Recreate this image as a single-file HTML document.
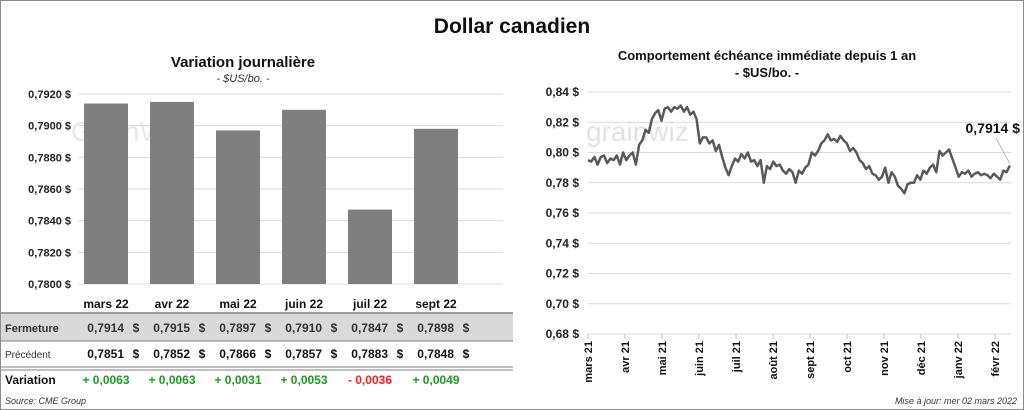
<!DOCTYPE html>
<html><head><meta charset="utf-8">
<style>
body{margin:0;background:#fff;font-family:"Liberation Sans",sans-serif;}
#wrap{position:relative;width:1022px;height:408px;border:1px solid #8c8c8c;overflow:hidden;}
svg text{font-family:"Liberation Sans",sans-serif;}
</style></head>
<body>
<div id="wrap">
<svg id="s" width="1022" height="408">
<text x="511" y="32" font-size="21" font-weight="bold" text-anchor="middle" fill="#111">Dollar canadien</text>
<text x="242" y="66" font-size="15" font-weight="bold" text-anchor="middle" fill="#111">Variation  journalière</text>
<text x="242" y="81" font-size="11" font-style="italic" text-anchor="middle" fill="#333">- $US/bo. -</text>
<text x="766" y="59" font-size="13" font-weight="bold" text-anchor="middle" fill="#111">Comportement échéance immédiate depuis 1 an</text>
<text x="766" y="76" font-size="13" font-weight="bold" text-anchor="middle" fill="#111">- $US/bo. -</text>
<text x="70" y="140" font-size="28" fill="#e8e8e8">GrainWiz</text>
<text x="585" y="140" font-size="28" fill="#e3e3e3">grainwiz</text>
<g id="left"></g>
<g id="right"></g>
<g id="table"></g>
<text x="4" y="403" font-size="9" font-style="italic" fill="#333">Source: CME Group</text>
<text x="1016" y="403" font-size="9" font-style="italic" fill="#333" text-anchor="end">Mise à jour: mer 02 mars 2022</text>
</svg>
</div>
<script>
const months=["mars 22","avr 22","mai 22","juin 22","juil 22","sept 22"];
const closeVals=[0.7914,0.7915,0.7897,0.7910,0.7847,0.7898];
const prevVals=[0.7851,0.7852,0.7866,0.7857,0.7883,0.7848];
const varVals=[0.0063,0.0063,0.0031,0.0053,-0.0036,0.0049];
const leftTicks=[0.7800,0.7820,0.7840,0.7860,0.7880,0.7900,0.7920];
const lineMonths=["mars 21","avr 21","mai 21","juin 21","juil 21","août 21","sept 21","oct 21","nov 21","déc 21","janv 22","févr 22"];
const rightTicks=[0.68,0.70,0.72,0.74,0.76,0.78,0.80,0.82,0.84];
// series spans from 1 mars 21 (month 0) to 2 mars 22 (month ~11.4)
const lineStart=0, lineEnd=11.4;
const lineV=[0.795,0.794,0.797,0.792,0.797,0.798,0.793,0.796,0.795,0.798,0.792,0.800,0.795,0.798,0.800,0.792,0.805,0.808,0.815,0.813,0.822,0.826,0.828,0.821,0.829,0.830,0.827,0.830,0.829,0.831,0.827,0.830,0.825,0.827,0.822,0.806,0.810,0.810,0.806,0.808,0.801,0.805,0.797,0.790,0.785,0.791,0.796,0.794,0.799,0.796,0.800,0.794,0.795,0.791,0.795,0.780,0.791,0.789,0.794,0.791,0.792,0.788,0.786,0.789,0.787,0.780,0.788,0.786,0.790,0.792,0.800,0.798,0.801,0.806,0.808,0.812,0.808,0.809,0.807,0.811,0.808,0.806,0.801,0.803,0.800,0.795,0.793,0.789,0.791,0.786,0.785,0.782,0.784,0.790,0.780,0.787,0.784,0.778,0.776,0.773,0.779,0.780,0.780,0.785,0.782,0.788,0.786,0.790,0.792,0.787,0.801,0.798,0.800,0.802,0.796,0.790,0.784,0.787,0.786,0.788,0.784,0.786,0.787,0.785,0.786,0.785,0.783,0.786,0.784,0.782,0.788,0.787,0.7914];

const NS="http://www.w3.org/2000/svg";
function mk(tag,attrs,parent,txt){const e=document.createElementNS(NS,tag);for(const k in attrs)e.setAttribute(k,attrs[k]);if(txt!==undefined)e.textContent=txt;parent.appendChild(e);return e;}
const fmt=(v,d)=>v.toFixed(d).replace('.',',');

// left bar chart
const L=document.getElementById('left');
const ly=v=>93+(0.7920-v)/(0.7920-0.7800)*190;
const lx=i=>105+66*i;
leftTicks.forEach(t=>{
 const g=mk('line',{x1:77,x2:502,y1:ly(t),y2:ly(t),stroke:'#d9d9d9','stroke-width':1},L);
 
 
 const tx=mk('text',{x:70,y:ly(t)+4,'font-size':11,'font-weight':'bold','text-anchor':'end',fill:'#222'},L,fmt(t,4)+' $');
 
 
});
closeVals.forEach((v,i)=>{
 const r=mk('rect',{x:lx(i)-22,y:ly(v),width:44,height:ly(0.78)-ly(v),fill:'#7f7f7f'},L);
 
 
});

// table
const T=document.getElementById('table');
mk('rect',{x:0,y:313,width:512,height:27,fill:'#d9d9d9'},T);
[[312,'#7f7f7f',1.5],[340,'#7f7f7f',1],[366,'#7f7f7f',1],[369,'#7f7f7f',1]].forEach(a=>{mk('line',{x1:0,x2:512,y1:a[0],y2:a[0],stroke:a[1],'stroke-width':a[2]},T);});
mk('text',{x:4,y:331,'font-size':11,'font-weight':'bold',fill:'#333'},T,'Fermeture');
mk('text',{x:4,y:357,'font-size':10,fill:'#333'},T,'Précédent');
mk('text',{x:4,y:383,'font-size':12,'font-weight':'bold',fill:'#111'},T,'Variation');
months.forEach((m,i)=>{
 const x=lx(i);
 const h=mk('text',{x:x,y:307,'font-size':12,'font-weight':'bold','text-anchor':'middle',fill:'#111'},T,m);
 
 
 const c=mk('text',{x:x+18,y:331,'font-size':12,'font-weight':'bold','text-anchor':'end',fill:'#333'},T,fmt(closeVals[i],4));
 
 
 mk('text',{x:x+30,y:331,'font-size':12,'font-weight':'bold','text-anchor':'middle',fill:'#333'},T,'$');
 const p=mk('text',{x:x+18,y:357,'font-size':12,'font-weight':'bold','text-anchor':'end',fill:'#111'},T,fmt(prevVals[i],4));
 
 
 mk('text',{x:x+30,y:357,'font-size':12,'font-weight':'bold','text-anchor':'middle',fill:'#111'},T,'$');
 const d=varVals[i];
 const vt=mk('text',{x:x,y:383,'font-size':12,'font-weight':'bold','text-anchor':'middle',fill:d>=0?'#1e9a1e':'#ff1a1a'},T,(d>=0?'+ ':'- ')+fmt(Math.abs(d),4));
 
 
});

// right line chart
const R=document.getElementById('right');
const ry=v=>91+(0.84-v)/(0.84-0.68)*242;
const rx=t=>587+37*t;
rightTicks.forEach(t=>{
 const g=mk('line',{x1:587,x2:1010,y1:ry(t),y2:ry(t),stroke:'#d9d9d9','stroke-width':1},R);
 
 
 const tx=mk('text',{x:578,y:ry(t)+4,'font-size':12,'font-weight':'bold','text-anchor':'end',fill:'#222'},R,fmt(t,2)+' $');
 
 
});
lineMonths.forEach((m,i)=>{
 const x=rx(i);
 mk('line',{x1:x,x2:x,y1:333,y2:338,stroke:'#bbb'},R);
 const tx=mk('text',{x:0,y:0,'font-size':11,'font-weight':'bold','text-anchor':'end',fill:'#111',transform:`translate(${x+4},340) rotate(-90)`},R,m);
 
 
});
const n=lineV.length;
const tAt=i=>lineStart+(lineEnd-lineStart)*i/(n-1);
const pts=lineV.map((v,i)=>rx(tAt(i)).toFixed(1)+','+ry(v).toFixed(1)).join(' ');
const pl=mk('polyline',{points:pts,fill:'none',stroke:'#595959','stroke-width':2.5,'stroke-linejoin':'round'},R);


const lastX=rx(tAt(n-1)),lastY=ry(lineV[n-1]);
mk('line',{x1:lastX,y1:lastY-2,x2:lastX-14,y2:lastY-28,stroke:'#aaa','stroke-width':0.8},R);
const lab=mk('text',{x:1019,y:132,'font-size':14,'font-weight':'bold','text-anchor':'end',fill:'#111'},R,fmt(lineV[n-1],4)+' $');


</script>
</body></html>
